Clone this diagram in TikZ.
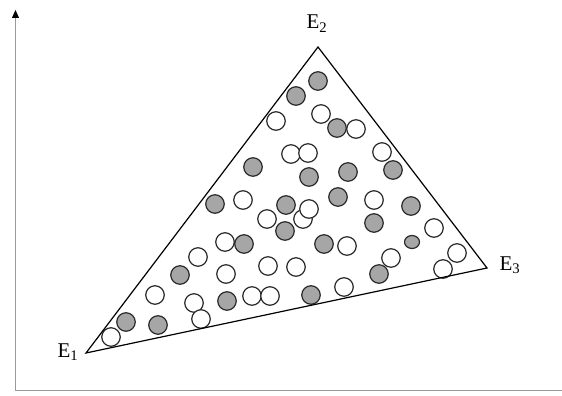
\documentclass[tikz,border=0pt]{standalone}
\usepackage{fontspec}
\setmainfont{Liberation Serif}
\usetikzlibrary{arrows.meta,calc,shapes.geometric}
\definecolor{axisgray}{HTML}{9A9A9A}
\definecolor{ballgray}{HTML}{A6A6A6}
\definecolor{rim}{HTML}{2A2A2A}
\begin{document}
\begin{tikzpicture}[x=1pt,y=-1pt,
  ball/.style={circle,draw=rim,line width=1.2pt,minimum size=18.5pt,inner sep=0pt},
  wball/.style={ball,fill=white},
  gball/.style={ball,fill=ballgray},
  lbl/.style={font=\fontsize{21}{24}\selectfont,inner sep=0pt},
  axis/.style={draw=axisgray,line width=1.3pt}]
\useasboundingbox (0,0) rectangle (562,396);
% axes
\coordinate (O) at (15.5,390.5);
\coordinate (Ytop) at (15.5,10);
\coordinate (Xend) at (562,390.5);
\draw[axis] (Xend) -- (O) -- ($(Ytop)+(0,6)$);
\fill[black] (Ytop) -- ++(3.6,8) -- ++(-7.2,0) -- cycle;
% triangle
\coordinate (E1) at (86,353);
\coordinate (E2) at (318,47);
\coordinate (E3) at (487,268);
% white balls
\foreach \x/\y [count=\i] in {111/337,155/295,198/257,194/303,201/319,226/274,252/296,270/296,268/266,296/267,344/287,391/258,443/269,457/253,434/228,347/246,303/219,309/209,267/219,243/200,225/242,291/154,308/153,374/200,382/152,356/129,321/114,276/121}
  \node[wball] (w\i) at (\x,\y) {};
% gray balls
\foreach \x/\y [count=\i] in {126/322,158/325,180/275,227/301,311/295,379/274,374/223,324/244,285/231,286/205,215/204,244/244,253/167,309/177,348/172,338/197,411/206,393/170,337/128,296/96,318/81}
  \node[gball] (g\i) at (\x,\y) {};
\node[draw=rim,line width=1.2pt,fill=ballgray,ellipse,minimum width=15pt,minimum height=13pt,inner sep=0pt] (gs) at (412,242) {};
\draw[black,line width=1.2pt,line join=miter] (E1) -- (E2) -- (E3) -- cycle;
% labels
\node[lbl,anchor=base] (L1) at (68,357) {E\textsubscript{1}};
\node[lbl,anchor=base] (L2) at (317,29) {E\textsubscript{2}};
\node[lbl,anchor=base] (L3) at (510,270) {E\textsubscript{3}};
\end{tikzpicture}
\end{document}
